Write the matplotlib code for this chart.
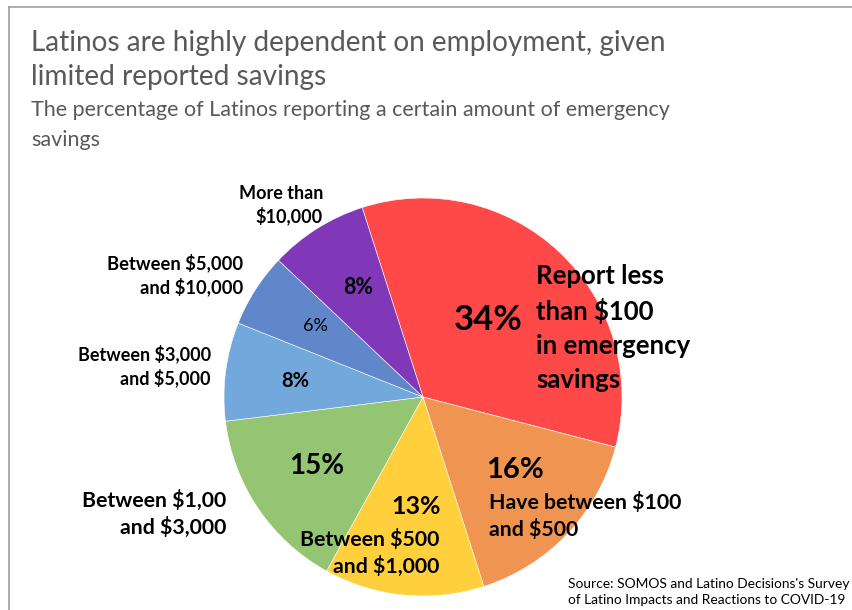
import matplotlib
matplotlib.use("Agg")
import matplotlib.pyplot as plt
from matplotlib.lines import Line2D

plt.rcParams['font.family'] = ['Lato', 'DejaVu Sans']

# slices, clockwise from the red one
categories = ["Less than $100", "Between $100 and $500", "Between $500 and $1,000",
              "Between $1,000 and $3,000", "Between $3,000 and $5,000",
              "Between $5,000 and $10,000", "More than $10,000"]
shares = [34, 16, 13, 15, 8, 6, 8]
colors = ["#FF4848", "#F09452", "#FFD03C", "#94C572", "#72A8DB", "#5F87C9", "#8038B8"]

W, H = 852, 610
fig = plt.figure(figsize=(W / 100, H / 100), dpi=100)

# frame lines (top and left, chart box is cropped)
fig.add_artist(Line2D([9 / W, 9 / W], [0, 1 - 7 / H], color="#A0A0A0", lw=1.2))
fig.add_artist(Line2D([9 / W, 1], [1 - 7 / H, 1 - 7 / H], color="#A0A0A0", lw=1.2))

# pie axes: centre (423, 397), radius 199 px
cx, cy, r = 423, 397, 199
ax = fig.add_axes([(cx - r) / W, 1 - (cy + r) / H, 2 * r / W, 2 * r / H])
ax.pie(shares, colors=colors, startangle=107.8, counterclock=False,
       wedgeprops=dict(linewidth=0.4, edgecolor="white"))
ax.set_xlim(-1, 1)
ax.set_ylim(-1, 1)
ax.axis("off")


def px(x, y, s, size, ha="center", color="black", weight="bold", ls=1.2):
    fig.text(x / W, 1 - y / H, s, fontsize=size, ha=ha, va="center",
             color=color, fontweight=weight, linespacing=ls)


# titles
fig.text(31 / W, 1 - 43 / H, "Latinos are highly dependent on employment, given",
         fontsize=20.2, color="#595959", va="center")
fig.text(31 / W, 1 - 77 / H, "limited reported savings",
         fontsize=20.2, color="#595959", va="center")
fig.text(31 / W, 1 - 110 / H, "The percentage of Latinos reporting a certain amount of emergency",
         fontsize=15.5, color="#595959", va="center")
fig.text(31 / W, 1 - 140 / H, "savings", fontsize=15.5, color="#595959", va="center")

# percentage labels
px(488, 320, "34%", 25)
px(515, 470, "16%", 21)
px(416, 507, "13%", 18)
px(317, 466, "15%", 20)
px(295, 381, "8%", 14.5)
px(315, 326, "6%", 13, weight="normal")
px(358, 288, "8%", 15.5)

# category labels
px(536, 328, "Report less\nthan $100\nin emergency\nsavings", 18.5, ha="left", ls=1.5)
px(489, 516, "Have between $100\nand $500", 15.3, ha="left", ls=1.38)
px(439, 553, "Between $500\nand $1,000", 15.3, ha="right", ls=1.34)
px(226, 514, "Between $1,00\nand $3,000", 15.3, ha="right", ls=1.38)
px(211, 366, "Between $3,000\nand $5,000", 13, ha="right", ls=1.3)
px(243, 275, "Between $5,000\nand $10,000", 13.2, ha="right", ls=1.3)
px(323, 205, "More than\n$10,000", 13, ha="right", ls=1.3)

# source note
fig.text(568 / W, 1 - 592 / H,
         "Source: SOMOS and Latino Decisions's Survey\nof Latino Impacts and Reactions to COVID-19",
         fontsize=9.9, color="black", va="center", linespacing=1.35)

fig.savefig("out.png", dpi=100, facecolor="white")
